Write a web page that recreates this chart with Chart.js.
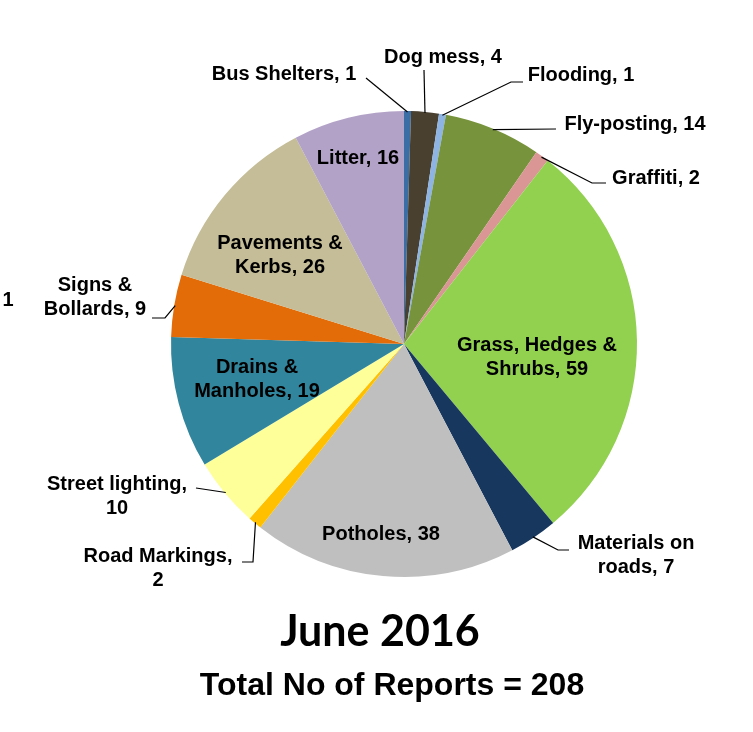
<!DOCTYPE html>
<html>
<head>
<meta charset="utf-8">
<script src="https://cdn.jsdelivr.net/npm/chart.js@4/dist/chart.umd.min.js"></script>
<style>
  html, body { margin: 0; padding: 0; background: #fff; }
  canvas { display: block; }
</style>
</head>
<body>
<canvas id="pieChart" width="753" height="732"></canvas>
<script>
// data
const categories = ['Bus Shelters', 'Dog mess', 'Flooding', 'Fly-posting', 'Graffiti',
  'Grass, Hedges & Shrubs', 'Materials on roads', 'Potholes', 'Road Markings',
  'Street lighting', 'Drains & Manholes', 'Signs & Bollards', 'Pavements & Kerbs', 'Litter'];
const reports = [1, 4, 1, 14, 2, 59, 7, 38, 2, 10, 19, 9, 26, 16];
const sliceColours = ['#3A6EA5', '#4A4030', '#8DB4E2', '#77933C', '#D99694',
  '#92D050', '#17375E', '#BFBFBF', '#FFC000', '#FFFF99', '#31859C', '#E36C09', '#C4BD97', '#B3A2C7'];

// label layout: text lines, centre x, middle y of first line, leader points after the arc edge
const labelLayout = [
  { lines: ['Bus Shelters, 1'], x: 284, y: 74, lead: [[366, 78]] },
  { lines: ['Dog mess, 4'], x: 443, y: 57, lead: [[424, 70]] },
  { lines: ['Flooding, 1'], x: 581, y: 75, lead: [[511, 82], [523, 82]] },
  { lines: ['Fly-posting, 14'], x: 635, y: 124, lead: [[556, 129]] },
  { lines: ['Graffiti, 2'], x: 656, y: 178, lead: [[592, 183], [606, 183]] },
  { lines: ['Grass, Hedges &', 'Shrubs, 59'], x: 537, y: 345 },
  { lines: ['Materials on', 'roads, 7'], x: 636, y: 543, lead: [[558, 550], [569, 550]] },
  { lines: ['Potholes, 38'], x: 381, y: 534 },
  { lines: ['Road Markings,', '2'], x: 158, y: 556, lead: [[253, 562], [242, 562]] },
  { lines: ['Street lighting,', '10'], x: 117, y: 484, lead: [[196, 488]] },
  { lines: ['Drains &', 'Manholes, 19'], x: 257, y: 367 },
  { lines: ['Signs &', 'Bollards, 9'], x: 95, y: 285, lead: [[165, 318], [152, 318]] },
  { lines: ['Pavements &', 'Kerbs, 26'], x: 280, y: 243 },
  { lines: ['Litter, 16'], x: 358, y: 158 }
];

const sliceLabels = {
  id: 'sliceLabels',
  afterDraw(chart) {
    const ctx = chart.ctx;
    const arcs = chart.getDatasetMeta(0).data;
    ctx.save();
    ctx.textAlign = 'center';
    ctx.textBaseline = 'middle';
    ctx.fillStyle = '#000';
    ctx.strokeStyle = '#000';
    ctx.lineWidth = 1.2;
    labelLayout.forEach((lab, i) => {
      const p = arcs[i].getProps(['x', 'y', 'startAngle', 'endAngle', 'outerRadius']);
      if (lab.lead) {
        const mid = (p.startAngle + p.endAngle) / 2;
        ctx.beginPath();
        ctx.moveTo(p.x + Math.cos(mid) * (p.outerRadius - 1), p.y + Math.sin(mid) * (p.outerRadius - 1));
        lab.lead.forEach(pt => ctx.lineTo(pt[0], pt[1]));
        ctx.stroke();
      }
    });
    ctx.font = 'bold 20px "Liberation Sans", Arial, sans-serif';
    labelLayout.forEach(lab => {
      lab.lines.forEach((t, k) => ctx.fillText(t, lab.x, lab.y + k * 24));
    });
    // cut-off label from the neighbouring chart
    ctx.fillText('1', 8, 300);

    ctx.font = 'bold 43px Lato, "Open Sans", sans-serif';
    ctx.fillText('June 2016', 380, 632);
    ctx.font = 'bold 32px "Liberation Sans", Arial, sans-serif';
    ctx.fillText('Total No of Reports = 208', 392, 686);
    ctx.restore();
  }
};

new Chart(document.getElementById('pieChart'), {
  type: 'pie',
  data: {
    labels: categories,
    datasets: [{
      data: reports,
      backgroundColor: sliceColours,
      borderWidth: 0
    }]
  },
  options: {
    responsive: false,
    animation: false,
    layout: { padding: { left: 171, right: 116, top: 111, bottom: 155 } },
    plugins: {
      legend: { display: false },
      tooltip: { enabled: false }
    }
  },
  plugins: [sliceLabels]
});
</script>
</body>
</html>
